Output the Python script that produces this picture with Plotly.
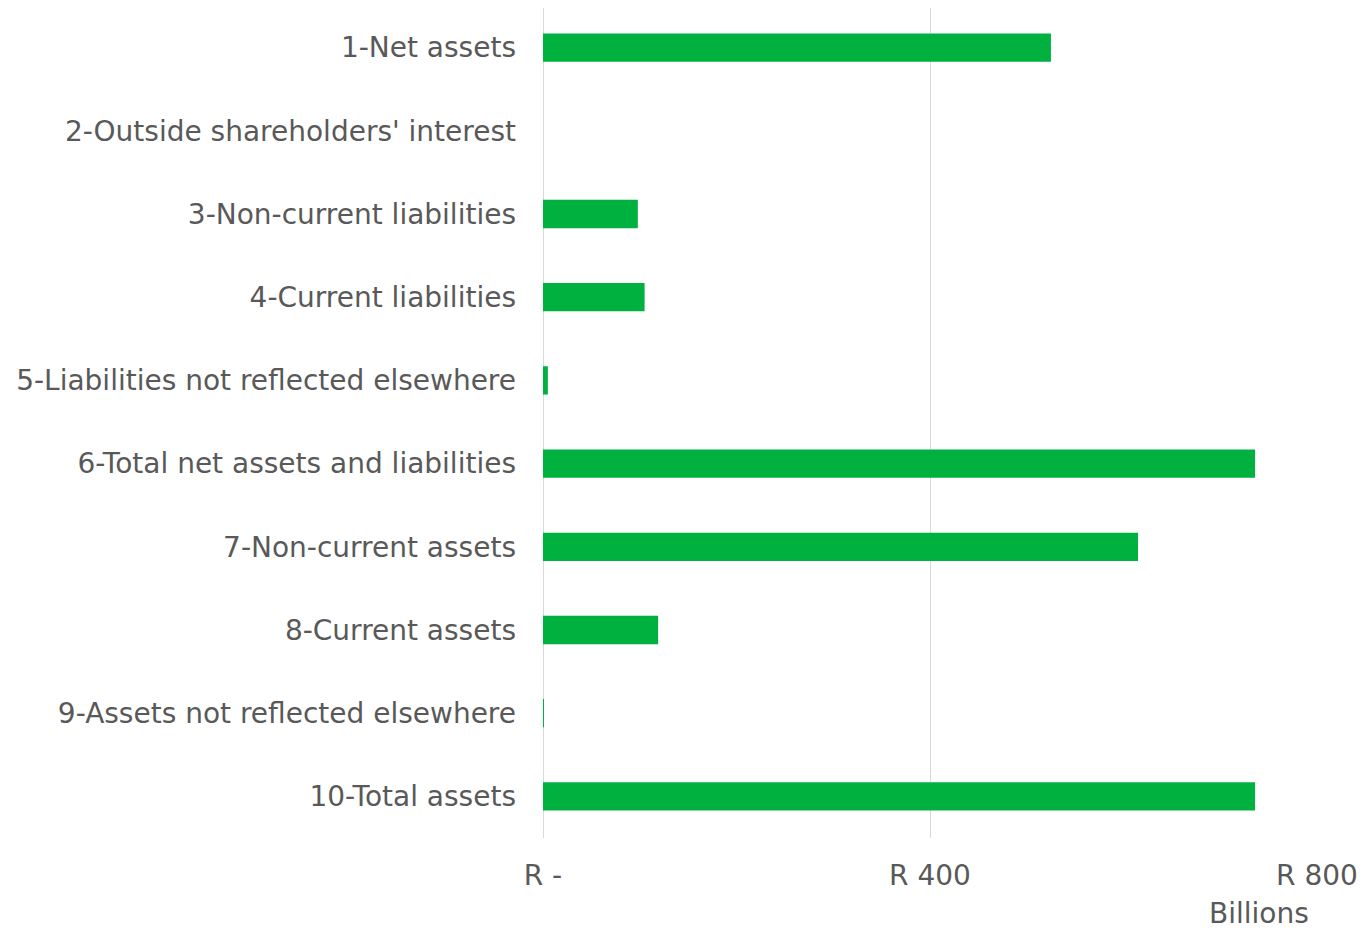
import plotly.graph_objects as go

categorias = [
    "1-Net assets",
    "2-Outside shareholders' interest",
    "3-Non-current liabilities",
    "4-Current liabilities",
    "5-Liabilities not reflected elsewhere",
    "6-Total net assets and liabilities",
    "7-Non-current assets",
    "8-Current assets",
    "9-Assets not reflected elsewhere",
    "10-Total assets",
]
valores = [525, 0, 98, 105, 5, 736, 615, 119, 0.4, 736]  # R billions
tick_vals = [0, 400, 800]
tick_text = ["R -", "R 400", "R 800"]

fig = go.Figure()
fig.add_trace(go.Bar(x=valores, y=categorias, orientation="h",
                     marker=dict(color="#00B140", line=dict(width=0)),
                     width=0.34))

fig.update_layout(
    width=1371, height=929,
    margin=dict(l=535, r=62, t=0, b=99, autoexpand=False),
    paper_bgcolor="white", plot_bgcolor="white",
    font=dict(family="DejaVu Sans", size=28, color="#595959"),
    showlegend=False,
)
fig.update_xaxes(range=[0, 800], tickvals=tick_vals, ticktext=tick_text,
                 showgrid=True, gridcolor="#D9D9D9", gridwidth=1,
                 zeroline=True, zerolinecolor="#D9D9D9", zerolinewidth=1,
                 ticks="", ticklabelstandoff=18, showline=False)
fig.update_yaxes(categoryorder="array", categoryarray=categorias[::-1],
                 range=[-0.5, 9.476],
                 ticks="", ticklabelstandoff=26, showline=False, showgrid=False)

fig.add_annotation(text="Billions", xref="paper", yref="paper",
                   x=0.925, y=0, xanchor="center", yanchor="middle",
                   yshift=-75, showarrow=False,
                   font=dict(size=28, color="#595959"))

fig.write_html("out.html")
